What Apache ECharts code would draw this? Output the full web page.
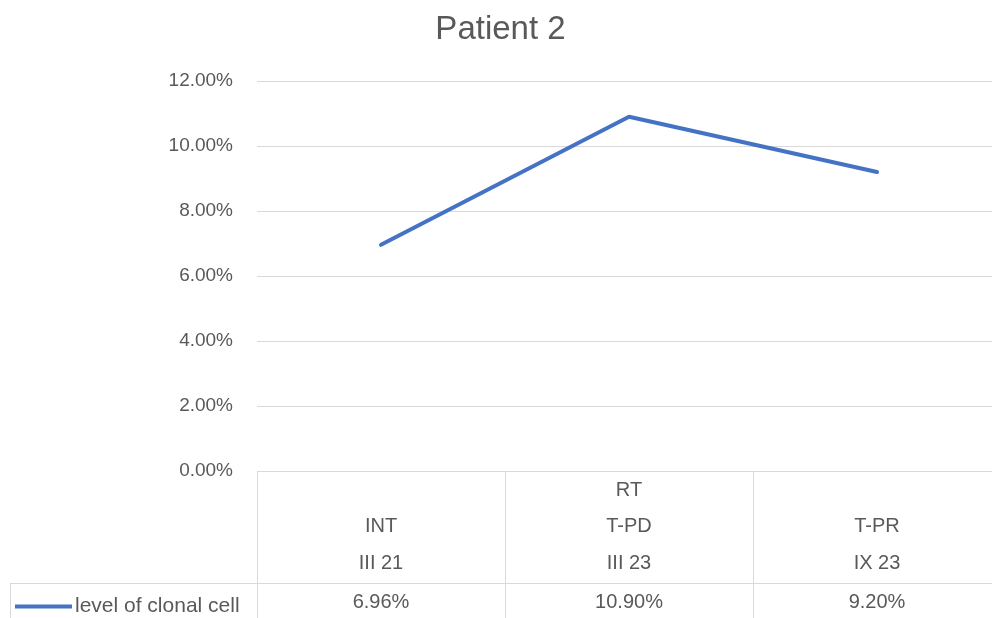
<!DOCTYPE html>
<html><head><meta charset="utf-8">
<script src="https://cdn.jsdelivr.net/npm/echarts@6/dist/echarts.min.js"></script>
<style>html,body{margin:0;padding:0;background:#fff;overflow:hidden;width:992px;height:618px}#c{width:1001px;height:618px}</style>
</head><body><div id="c"></div>
<script>
const categories = [['INT','III 21'], ['RT','T-PD','III 23'], ['T-PR','IX 23']];
const seriesName = 'level of clonal cell';
const values = [0.0696, 0.109, 0.092];
const yTicks = { min: 0, max: 0.12, interval: 0.02 };

const pct = v => (v * 100).toFixed(2) + '%';
const catLabels = categories.map(lines => {
  const pad = [];
  for (let i = lines.length; i < 3; i++) pad.push('');
  return pad.concat(lines).join('\n');
});
const font = 'Liberation Sans';
const txt = '#595959';
const chart = echarts.init(document.getElementById('c'));
chart.setOption({
  animation: false,
  title: { text: 'Patient 2', left: 'center', top: 8, textStyle: { fontFamily: font, fontSize: 33, fontWeight: 'normal', color: txt } },
  legend: { left: 10, top: 591, icon: 'rect', itemWidth: 57, itemHeight: 4, itemGap: 4, textStyle: { fontFamily: font, fontSize: 21, lineHeight: 20, color: txt, padding: [0,0,0,-2] }, data: [seriesName] },
  grid: { left: 257, top: 81, right: 0, height: 390 },
  xAxis: [{
    type: 'category', data: catLabels, boundaryGap: true,
    axisLine: { show: false },
    axisTick: { show: true, length: 147, lineStyle: { color: '#d9d9d9' } },
    axisLabel: { margin: 1, fontFamily: font, fontSize: 20, color: txt, lineHeight: 36.5, verticalAlign: 'top' }
  }, {
    type: 'category', position: 'bottom', offset: 131, data: values.map(pct), boundaryGap: true,
    axisLine: { show: false }, axisTick: { show: false },
    axisLabel: { margin: 0, fontFamily: font, fontSize: 20, color: txt, verticalAlign: 'middle' }
  }],
  yAxis: {
    type: 'value', min: yTicks.min, max: yTicks.max, interval: yTicks.interval,
    axisLine: { show: false }, axisTick: { show: false },
    axisLabel: { formatter: pct, margin: 24, fontFamily: font, fontSize: 19, color: txt, padding: [3,0,0,0] },
    splitLine: { lineStyle: { color: '#d9d9d9', width: 1 } }
  },
  graphic: [
    { type: 'line', shape: { x1: 10, y1: 583.5, x2: 1001, y2: 583.5 }, style: { stroke: '#d9d9d9', lineWidth: 1 } },
    { type: 'line', shape: { x1: 10.5, y1: 583, x2: 10.5, y2: 618 }, style: { stroke: '#d9d9d9', lineWidth: 1 } }
  ],
  series: [{
    name: seriesName, type: 'line', data: values, showSymbol: false, symbol: 'none',
    lineStyle: { color: '#4472C4', width: 4, cap: 'round' }, itemStyle: { color: '#4472C4' }
  }]
});
</script></body></html>
